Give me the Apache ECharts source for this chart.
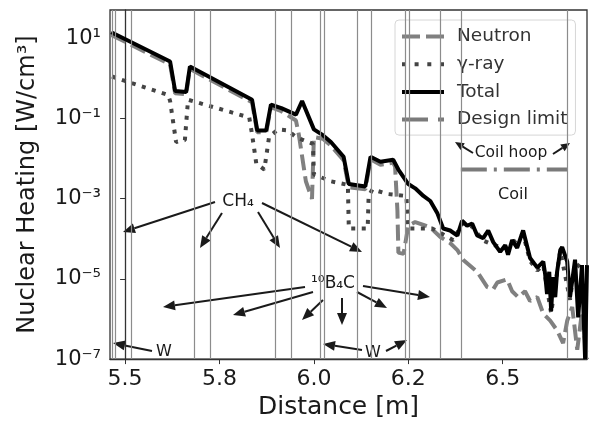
<!DOCTYPE html>
<html>
<head>
<meta charset="utf-8">
<script src="https://cdn.jsdelivr.net/npm/echarts@6/dist/echarts.min.js"></script>
<style>html,body{margin:0;background:#fff}#chart{width:593px;height:425px}</style>
</head>
<body>
<div id="chart"></div>
<script>
// x axis: every tick interval gets the same width (5.5, 5.8, 6.0, 6.2, 6.5)
const tickValues = [5.5, 5.8, 6.0, 6.2, 6.5];
const tickLabels = ["5.5", "5.8", "6.0", "6.2", "6.5"];
const yTickExps = [-7, -5, -3, -1, 1];
const xRange = [5.452, 6.768];
const yRange = [1e-7, 50];

// layer boundaries [m]
const layerBounds = [5.459, 5.471, 5.519, 5.719, 5.770, 5.918, 5.952, 6.015, 6.023, 6.093, 6.122, 6.194, 6.202, 6.302, 6.367, 6.705];

// [distance m, W/cm3]
const neutron = [
  [5.456, 12], [5.643, 2.2], [5.659, 0.42], [5.694, 0.40], [5.706, 1.7], [5.869, 0.25], [5.880, 0.045], [5.899, 0.045],
  [5.909, 0.19], [5.931, 0.15], [5.962, 0.088], [5.968, 0.040], [5.983, 0.0027], [5.996, 9.8e-4], [6.000, 0.034],
  [6.019, 0.031], [6.036, 0.021], [6.063, 0.0090], [6.074, 0.0019], [6.109, 0.0017], [6.120, 0.0095], [6.141, 0.0070],
  [6.168, 0.0078], [6.172, 0.0063], [6.177, 5.0e-4], [6.179, 4.5e-5], [6.190, 4.2e-5], [6.200, 2.1e-4], [6.222, 2.6e-4],
  [6.248, 2.2e-4], [6.270, 1.9e-4], [6.302, 1.1e-4], [6.333, 7.8e-5], [6.356, 5.2e-5], [6.374, 3.0e-5], [6.419, 1.5e-5],
  [6.451, 6.2e-6], [6.470, 5.5e-6], [6.483, 8.1e-6], [6.514, 9.7e-6], [6.530, 4.9e-6], [6.549, 3.5e-6], [6.571, 4.9e-6],
  [6.587, 2.8e-6], [6.610, 3.5e-6], [6.629, 1.35e-6], [6.651, 9.1e-7], [6.673, 5.2e-7], [6.692, 2.5e-7], [6.705, 9e-7],
  [6.721, 2.0e-6], [6.737, 1.7e-7], [6.752, 1.5e-6], [6.768, 1.0e-7]
];
const gammaRay = [
  [5.458, 1.1], [5.637, 0.38], [5.643, 0.27], [5.662, 0.0256], [5.690, 0.0286], [5.700, 0.29], [5.863, 0.105], [5.869, 0.040],
  [5.878, 0.0074], [5.895, 0.0053], [5.905, 0.034], [5.924, 0.053], [5.945, 0.050], [5.962, 0.034], [5.998, 0.023],
  [6.000, 0.0040], [6.036, 0.0027], [6.072, 0.0022], [6.074, 1.8e-4], [6.114, 1.8e-4], [6.116, 1.16e-3], [6.124, 1.7e-3],
  [6.156, 1.3e-3], [6.196, 1.16e-3], [6.200, 1.8e-4], [6.276, 1.8e-4], [6.302, 1.4e-4], [6.343, 9.2e-5], [6.371, 2.4e-4],
  [6.403, 2.0e-4], [6.438, 9.0e-5], [6.470, 7.0e-5], [6.508, 5.8e-5], [6.530, 7.5e-5], [6.565, 1.3e-4], [6.587, 2.8e-5],
  [6.610, 1.6e-5], [6.629, 2.2e-5], [6.654, 1.4e-6], [6.683, 5.0e-5], [6.714, 3.0e-6], [6.730, 2.5e-5], [6.752, 1.8e-5],
  [6.768, 1.8e-5]
];
const total = [
  [5.456, 14], [5.643, 2.6], [5.659, 0.48], [5.694, 0.45], [5.706, 1.95], [5.869, 0.29], [5.880, 0.050], [5.899, 0.050],
  [5.909, 0.22], [5.931, 0.18], [5.962, 0.124], [5.975, 0.27], [6.000, 0.053], [6.019, 0.038], [6.036, 0.0256],
  [6.063, 0.011], [6.074, 0.0023], [6.109, 0.0020], [6.120, 0.011], [6.141, 0.0083], [6.168, 0.0093], [6.179, 0.0053],
  [6.200, 0.0023], [6.222, 0.0018], [6.248, 0.00116], [6.270, 8.7e-4], [6.292, 4.4e-4], [6.311, 1.8e-4], [6.333, 1.6e-4],
  [6.356, 1.2e-4], [6.371, 2.8e-4], [6.387, 2.1e-4], [6.403, 2.4e-4], [6.419, 1.2e-4], [6.438, 1.03e-4], [6.454, 1.6e-4],
  [6.470, 8.2e-5], [6.492, 4.7e-5], [6.508, 6.9e-5], [6.517, 4.0e-5], [6.530, 9.2e-5], [6.546, 5.9e-5], [6.565, 1.6e-4],
  [6.587, 3.3e-5], [6.610, 1.9e-5], [6.629, 2.7e-5], [6.635, 1.3e-5], [6.641, 4.2e-6], [6.648, 1.5e-5], [6.654, 1.6e-6],
  [6.660, 1.1e-5], [6.667, 3.5e-6], [6.673, 1.5e-5], [6.683, 5.2e-5], [6.689, 6.2e-5], [6.705, 2.7e-5], [6.714, 3.5e-6],
  [6.730, 3.0e-5], [6.740, 1.1e-6], [6.752, 2.2e-5], [6.762, 1.0e-7], [6.768, 2.2e-5]
];
const designLimit = [[6.367, 5.3e-3], [6.705, 5.3e-3]];

const font = "DejaVu Sans";
const ink = "#1a1a1a";
const sup = { "-": "⁻", "0": "⁰", "1": "¹", "2": "²", "3": "³", "4": "⁴", "5": "⁵", "6": "⁶", "7": "⁷", "8": "⁸", "9": "⁹" };

function toAxis(d) {
  let i = 0;
  if (d > tickValues[tickValues.length - 1]) i = tickValues.length - 2;
  else while (i < tickValues.length - 2 && d > tickValues[i + 1]) i++;
  return i + (d - tickValues[i]) / (tickValues[i + 1] - tickValues[i]);
}
const toPoints = rows => rows.map(([d, v]) => [toAxis(d), Math.log10(v)]);

function arrow(x1, y1, x2, y2, head = 12, w = 10) {
  const len = Math.hypot(x2 - x1, y2 - y1), ux = (x2 - x1) / len, uy = (y2 - y1) / len;
  const bx = x2 - ux * head, by = y2 - uy * head;
  return [
    { type: "line", silent: true, shape: { x1, y1, x2: bx, y2: by }, style: { stroke: ink, lineWidth: 2 } },
    { type: "polygon", silent: true, shape: { points: [[x2, y2], [bx - uy * w / 2, by + ux * w / 2], [bx + uy * w / 2, by - ux * w / 2]] }, style: { fill: ink } },
  ];
}
function label(x, y, text, size) {
  return { type: "text", silent: true, x, y, style: { text, font: `${size}px "${font}"`, fill: ink, align: "center", verticalAlign: "middle", textAlign: "center", textVerticalAlign: "middle" } };
}

const annotations = [
  label(238, 202, "CH₄", 17),
  ...arrow(215, 202, 123, 232), ...arrow(222, 213, 200, 248), ...arrow(258, 212, 280, 248), ...arrow(262, 203, 362, 252),
  label(333, 284, "¹⁰B₄C", 17),
  ...arrow(305, 287, 163, 307), ...arrow(313, 292, 233, 315), ...arrow(323, 300, 302, 320),
  ...arrow(342, 298, 342, 325), ...arrow(357, 292, 387, 308), ...arrow(363, 286, 430, 297),
  label(164, 352, "W", 16), ...arrow(152, 351, 113, 343),
  label(373, 353, "W", 16), ...arrow(362, 350, 323, 344), ...arrow(386, 351, 407, 340),
  label(511, 153, "Coil hoop", 15.5), ...arrow(473, 153, 455, 142, 9, 8), ...arrow(553, 154, 570, 143, 9, 8),
  label(513, 195, "Coil", 16),
];

// legend samples drawn as dash patterns in a 42 x 4 box
const legendIcons = {
  "Neutron": "path://M0,0h18v4h-18z M24,0h18v4h-18z",
  "γ-ray": "path://M0,0h4v4h-4z M12.6,0h4v4h-4z M25.3,0h4v4h-4z M38,0h4v4h-4z",
  "Total": "path://M0,0h42v4h-42z",
  "Design limit": "path://M0,0h26v4h-26z M36,0h6v4h-6z",
};

const chart = echarts.init(document.getElementById("chart"));
chart.setOption({
  animation: false,
  textStyle: { fontFamily: font },
  grid: { left: 110, right: 6, top: 10, bottom: 59, show: true, borderColor: "#333", borderWidth: 1.3 },
  legend: {
    data: Object.keys(legendIcons).map(name => ({ name, icon: legendIcons[name] })),
    orient: "vertical", left: 395, top: 20,
    itemWidth: 42, itemHeight: 4, itemGap: 8.7,
    padding: [7, 8, 6, 7],
    backgroundColor: "rgba(255,255,255,0.85)", borderColor: "#d6d6d6", borderWidth: 1, borderRadius: 4,
    textStyle: { fontFamily: font, fontSize: 18.5, color: "#333", padding: [0, 0, 0, 8] },
  },
  xAxis: {
    type: "value",
    min: toAxis(xRange[0]), max: toAxis(xRange[1]),
    axisLine: { onZero: false, lineStyle: { color: "#333", width: 1.3 } },
    axisTick: { customValues: tickValues.map(toAxis), length: 5, lineStyle: { color: "#333" } },
    axisLabel: { customValues: tickValues.map(toAxis), formatter: v => tickLabels[Math.round(v)], fontSize: 22, color: ink, margin: 9 },
    splitLine: { show: false },
    name: "Distance [m]", nameLocation: "middle", nameGap: 31,
    nameTextStyle: { fontSize: 25, color: ink, padding: [0, 20, 0, 0] },
  },
  yAxis: {
    type: "value",
    min: Math.log10(yRange[0]), max: Math.log10(yRange[1]),
    axisLine: { show: true, lineStyle: { color: "#333", width: 1.3 } },
    axisTick: { show: true, customValues: yTickExps, length: 5, lineStyle: { color: "#333" } },
    axisLabel: { customValues: yTickExps, formatter: v => "10" + String(v).split("").map(c => sup[c]).join(""), fontSize: 21, color: ink, margin: 9 },
    splitLine: { show: false },
    name: "Nuclear Heating [W/cm³]", nameLocation: "middle", nameGap: 70,
    nameTextStyle: { fontSize: 24, color: ink },
  },
  series: [
    {
      name: "Neutron", type: "line", symbol: "none", z: 2, data: toPoints(neutron),
      lineStyle: { color: "#808080", width: 4, type: [16, 6] }, itemStyle: { color: "#808080" },
      markLine: {
        silent: true, symbol: "none", label: { show: false }, animation: false,
        lineStyle: { color: "#8c8c8c", width: 1.2, type: "solid" },
        data: layerBounds.map(d => ({ xAxis: toAxis(d) })),
      },
    },
    {
      name: "γ-ray", type: "line", symbol: "none", z: 3, data: toPoints(gammaRay),
      lineStyle: { color: "#444", width: 4, type: [4, 6.5] }, itemStyle: { color: "#444" },
    },
    {
      name: "Total", type: "line", symbol: "none", z: 4, data: toPoints(total),
      lineStyle: { color: "#000", width: 4 }, itemStyle: { color: "#000" },
    },
    {
      name: "Design limit", type: "line", symbol: "none", z: 4, data: toPoints(designLimit),
      lineStyle: { color: "#7a7a7a", width: 4, type: [26, 7, 3, 7] }, itemStyle: { color: "#7a7a7a" },
    },
  ],
  graphic: annotations,
});
</script>
</body>
</html>
